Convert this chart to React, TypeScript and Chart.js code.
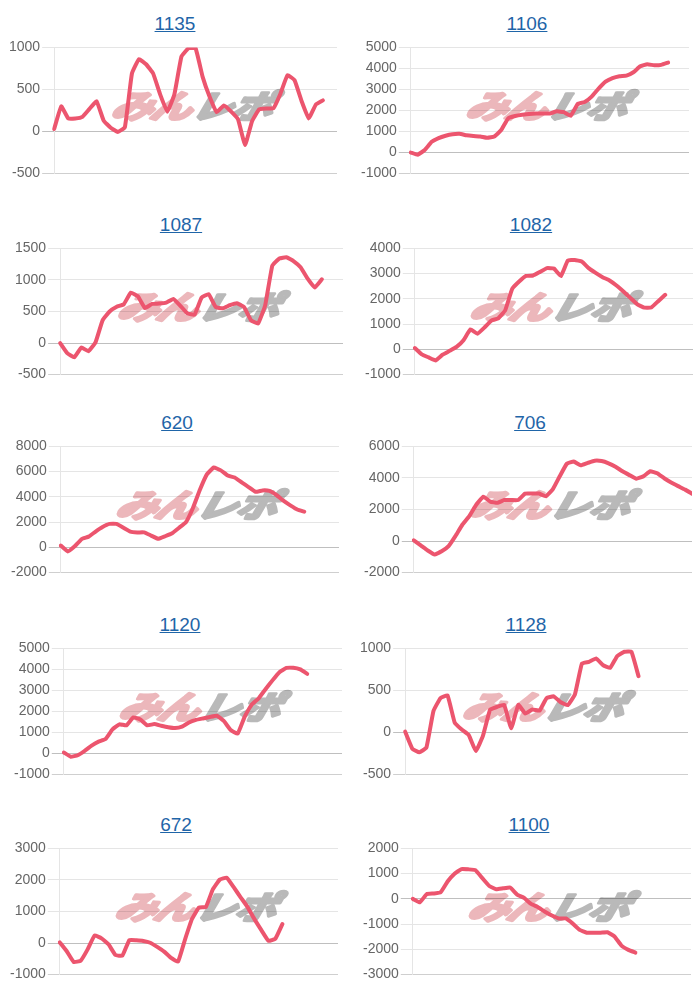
import React, { useEffect, useRef } from "react";
import { Chart, registerables } from "chart.js";

Chart.register(...registerables);

// ---- Data ----
const titles = ["1135", "1106", "1087", "1082", "620", "706", "1120", "1128", "672", "1100"];

const s1135 = [30, 300, 155, 155, 175, 270, 360, 130, 45, -5, 50, 690, 860, 800, 690, 440, 235, 440, 890, 990, 990, 650, 410, 230, 310, 240, 145, -160, 125, 265, 275, 275, 450, 670, 610, 360, 155, 320, 370];
const s1106 = [0, -100, 120, 510, 690, 800, 870, 890, 820, 785, 765, 700, 760, 1070, 1630, 1740, 1800, 1830, 1855, 1860, 1860, 1960, 1920, 1750, 2310, 2400, 2660, 3040, 3370, 3540, 3630, 3660, 3820, 4100, 4200, 4150, 4170, 4280];
const s1087 = [0, -160, -225, -70, -130, 10, 360, 500, 575, 615, 800, 740, 555, 620, 625, 640, 700, 590, 470, 450, 720, 775, 570, 550, 600, 630, 570, 360, 310, 600, 1225, 1340, 1360, 1300, 1200, 1020, 880, 1010];
const s1082 = [50, -200, -320, -440, -210, -60, 95, 360, 790, 620, 860, 1140, 1230, 1550, 2400, 2690, 2910, 2925, 3070, 3220, 3200, 2900, 3520, 3540, 3480, 3220, 3030, 2860, 2730, 2530, 2290, 2040, 1780, 1655, 1660, 1910, 2160];
const s620 = [140, -320, 90, 660, 850, 1250, 1610, 1860, 1860, 1560, 1250, 1185, 1185, 930, 680, 880, 1120, 1550, 2000, 3120, 4560, 5780, 6330, 6100, 5690, 5530, 5150, 4780, 4400, 4510, 4470, 4150, 3700, 3330, 3000, 2830];
const s706 = [50, -270, -600, -850, -650, -320, 330, 1050, 1600, 2320, 2810, 2500, 2420, 2600, 2600, 2600, 3010, 3010, 3010, 2840, 3290, 4120, 4900, 5040, 4800, 4950, 5090, 5070, 4930, 4710, 4420, 4180, 3950, 4100, 4420, 4300, 3980, 3710, 3480, 3260, 3000];
const s1120 = [50, -150, -80, 130, 380, 565, 690, 1150, 1390, 1340, 1720, 1620, 1340, 1400, 1320, 1250, 1210, 1280, 1480, 1600, 1670, 1740, 1800, 1550, 1120, 950, 1750, 2320, 2620, 3060, 3480, 3870, 4070, 4080, 4000, 3790];
const s1128 = [10, -190, -235, -180, 255, 410, 440, 120, 35, -30, -220, -40, 270, 305, 330, 50, 330, 225, 275, 260, 410, 430, 360, 325, 450, 820, 840, 880, 800, 770, 910, 960, 960, 670];
const s672 = [20, -260, -600, -560, -200, 240, 150, -40, -380, -400, 95, 85, 65, 10, -120, -270, -470, -590, 110, 760, 1125, 1140, 1700, 2010, 2070, 1770, 1450, 1140, 750, 400, 70, 140, 600];
const s1100 = [0, -140, 190, 215, 260, 690, 1000, 1180, 1170, 1140, 820, 510, 380, 420, 450, 170, 40, -200, -330, -510, -660, -775, -775, -980, -1230, -1340, -1340, -1340, -1320, -1490, -1850, -2020, -2130];

const seriesList = [s1135, s1106, s1087, s1082, s620, s706, s1120, s1128, s672, s1100];

const yMins = [-500, -1000, -500, -1000, -2000, -2000, -1000, -500, -1000, -3000];
const yMaxs = [1000, 5000, 1500, 4000, 8000, 6000, 5000, 1000, 3000, 2000];
const ySteps = [500, 1000, 500, 1000, 2000, 2000, 1000, 500, 1000, 1000];

const xLabels = Array.from({ length: 41 }, (_, i) => String(i + 1));

// ---- Layout ----
const canvasLefts = [7, 359, 13, 363, 9, 362, 12, 358, 8, 361];
const plotTops = [47, 248, 446, 648, 848];
const CANVAS_W = 330;
const PLOT_H = 127;
const PAD = 10;

const LINE_COLOR = "rgb(236, 85, 110)";
const FONT = "'Liberation Sans', Arial, Helvetica, sans-serif";

const wmChars = ["み", "ん", "レ", "ポ"];
const wmOffsets = [-60, -21, 20, 60];
const wmColors = ["#ecb7bb", "#ecb7bb", "#b9b9b9", "#b9b9b9"];

const watermarkPlugin = {
  id: "watermark",
  beforeDraw(chart: any) {
    const { ctx, chartArea } = chart;
    const cx = (chartArea.left + chartArea.right) / 2 - 2;
    const cy = chartArea.top + 58;
    ctx.save();
    ctx.font = "italic bold 32px 'Noto Sans CJK JP'";
    ctx.textBaseline = "middle";
    ctx.textAlign = "center";
    ctx.lineJoin = "round";
    for (let i = 0; i < wmChars.length; i++) {
      ctx.save();
      ctx.translate(cx + wmOffsets[i], cy);
      ctx.scale(1.3, 1);
      ctx.transform(1, 0, -0.2, 1, 0, 0);
      ctx.fillStyle = wmColors[i];
      ctx.strokeStyle = wmColors[i];
      ctx.lineWidth = 3;
      ctx.strokeText(wmChars[i], 0, 0);
      ctx.fillText(wmChars[i], 0, 0);
      ctx.restore();
    }
    ctx.restore();
  },
};

function MiniChart({ index }: { index: number }) {
  const ref = useRef<HTMLCanvasElement | null>(null);

  useEffect(() => {
    if (!ref.current) return;
    const chart = new Chart(ref.current, {
      type: "line",
      data: {
        labels: xLabels,
        datasets: [
          {
            data: seriesList[index],
            borderColor: LINE_COLOR,
            backgroundColor: LINE_COLOR,
            borderWidth: 4,
            pointRadius: 0,
            tension: 0.1,
            fill: false,
            borderJoinStyle: "round",
            borderCapStyle: "round",
          },
        ],
      },
      options: {
        animation: false,
        responsive: false,
        maintainAspectRatio: false,
        layout: { padding: { top: PAD, bottom: PAD, left: 0, right: 0 } },
        plugins: {
          legend: { display: false },
          tooltip: { enabled: false },
          title: { display: false },
        },
        scales: {
          x: { display: false },
          y: {
            min: yMins[index],
            max: yMaxs[index],
            grid: {
              color: (c: any) =>
                c.tick && c.tick.value === 0
                  ? "rgba(0,0,0,0.25)"
                  : c.index === 0
                  ? "rgba(0,0,0,0.19)"
                  : "rgba(0,0,0,0.1)",
              tickLength: 12,
            },
            border: { color: "rgba(0,0,0,0.1)" },
            ticks: {
              stepSize: ySteps[index],
              color: "#666",
              padding: 2,
              font: { family: FONT, size: 14 },
              callback: (v: any) => String(v),
            },
          },
        },
      },
      plugins: [watermarkPlugin],
    });
    return () => chart.destroy();
  }, [index]);

  const row = Math.floor(index / 2);
  const left = canvasLefts[index];
  const top = plotTops[row];

  return (
    <>
      <a
        href="#"
        onClick={(e) => e.preventDefault()}
        style={{
          position: "absolute",
          left: left + 168 - 60,
          width: 120,
          top: top - 34,
          textAlign: "center",
          fontFamily: FONT,
          fontSize: 19,
          lineHeight: "22px",
          color: "#1f65a8",
          textDecoration: "underline",
        }}
      >
        {titles[index]}
      </a>
      <canvas
        ref={ref}
        width={CANVAS_W}
        height={PLOT_H + PAD * 2}
        style={{
          position: "absolute",
          left,
          top: top - PAD,
          width: CANVAS_W,
          height: PLOT_H + PAD * 2,
        }}
      />
    </>
  );
}

export default function App() {
  return (
    <div
      style={{
        position: "absolute",
        left: 0,
        top: 0,
        width: 700,
        height: 1000,
        background: "#fff",
        overflow: "hidden",
      }}
    >
      {titles.map((_, i) => (
        <MiniChart key={i} index={i} />
      ))}
    </div>
  );
}
